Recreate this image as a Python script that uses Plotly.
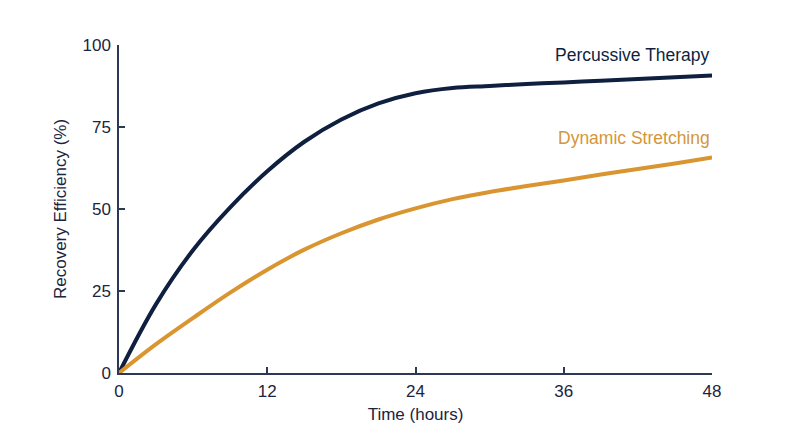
import plotly.graph_objects as go

hours = [0, 3, 6, 9, 12, 15, 18, 21, 24, 27, 30, 33, 36, 39, 42, 45, 48]
percussive = [0, 21.0, 37.5, 50.5, 61.5, 70.5, 77.3, 82.2, 85.3, 86.9, 87.5, 88.1, 88.6, 89.1, 89.6, 90.2, 90.7]
dynamic = [0, 8.8, 16.8, 24.5, 31.5, 37.6, 42.6, 46.8, 50.2, 53.0, 55.2, 57.0, 58.7, 60.5, 62.2, 63.9, 65.7]
series_names = ["Percussive Therapy", "Dynamic Stretching"]
x_ticks = [0, 12, 24, 36, 48]
y_ticks = [0, 25, 50, 75, 100]

NAVY = "#0f1f3f"
GOLD = "#d99530"
AXIS = "#2b3954"
TEXT = "#1b2440"
FONT = "Liberation Sans"

fig = go.Figure()
fig.add_trace(go.Scatter(x=hours, y=percussive, mode="lines", name=series_names[0],
                         line=dict(color=NAVY, width=4, shape="spline", smoothing=1.0)))
fig.add_trace(go.Scatter(x=hours, y=dynamic, mode="lines", name=series_names[1],
                         line=dict(color=GOLD, width=4, shape="spline", smoothing=1.0)))

fig.add_annotation(x=hours[-1], y=percussive[-1], text=series_names[0], showarrow=False,
                   xanchor="right", yanchor="bottom", yshift=8,
                   font=dict(family=FONT, size=17.5, color=NAVY))
fig.add_annotation(x=hours[-1], y=dynamic[-1], text=series_names[1], showarrow=False,
                   xanchor="right", yanchor="bottom", yshift=8,
                   font=dict(family=FONT, size=17.5, color="#d4963a"))

fig.update_layout(
    width=800, height=447,
    margin=dict(l=111, r=96, t=37, b=82),
    paper_bgcolor="white", plot_bgcolor="white",
    showlegend=False,
    font=dict(family=FONT, size=17, color=TEXT),
)
fig.update_xaxes(range=[0, 48], tickvals=x_ticks, showgrid=False, zeroline=False,
                 showline=True, linecolor=AXIS, linewidth=1.5,
                 ticks="inside", ticklen=6, tickcolor=AXIS, tickwidth=1.5,
                 ticklabelstandoff=2,
                 tickfont=dict(family=FONT, size=17, color=TEXT),
                 title=dict(text="Time (hours)", font=dict(family=FONT, size=17, color=TEXT), standoff=8))
fig.update_yaxes(range=[0, 100], tickvals=y_ticks, showgrid=False, zeroline=False,
                 showline=True, linecolor=AXIS, linewidth=1.5,
                 ticks="inside", ticklen=6, tickcolor=AXIS, tickwidth=1.5,
                 ticklabelstandoff=3,
                 tickfont=dict(family=FONT, size=17, color=TEXT),
                 title=dict(text="Recovery Efficiency (%)", font=dict(family=FONT, size=17, color=TEXT), standoff=12))

fig.write_html("out.html")
